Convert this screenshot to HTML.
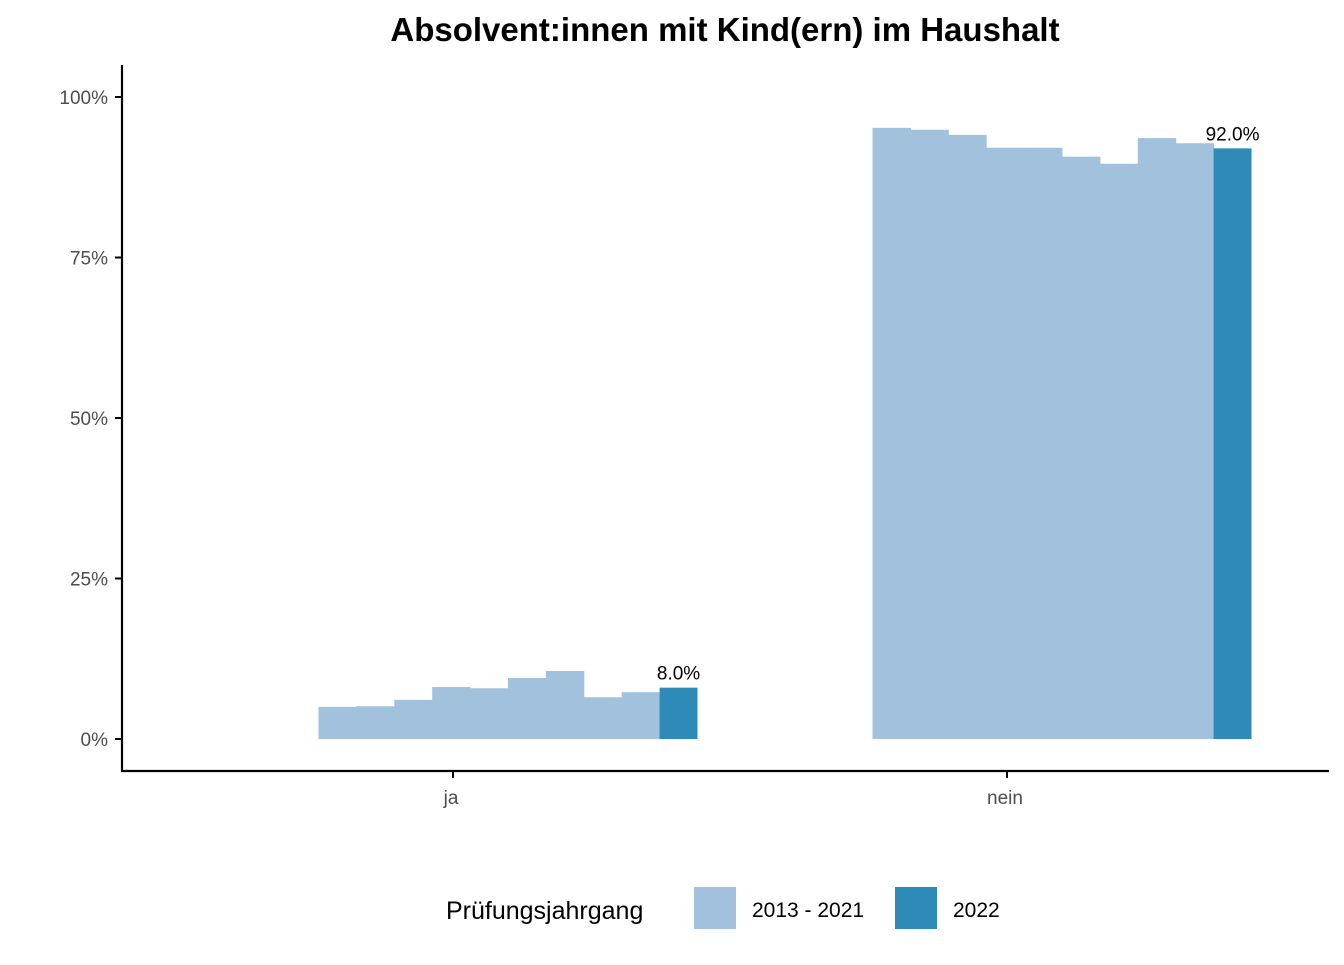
<!DOCTYPE html>
<html><head><meta charset="utf-8"><style>
body{margin:0;background:#fff;font-family:"Liberation Sans",Arial,sans-serif}
</style></head><body>
<svg id="chart" width="1344" height="960" xmlns="http://www.w3.org/2000/svg">
<text x="725" y="41" text-anchor="middle" font-size="33" font-weight="bold" fill="#000">Absolvent:innen mit Kind(ern) im Haushalt</text>
<g id="bars"></g>
<g id="yaxis"></g>
<g id="xaxis"></g>
<line x1="122" y1="65" x2="122" y2="771" stroke="#000" stroke-width="2.2"/>
<line x1="121" y1="771" x2="1329" y2="771" stroke="#000" stroke-width="2.2"/>
<g>
<text x="446" y="919" font-size="25" fill="#000">Prüfungsjahrgang</text>
<rect x="694" y="887" width="42" height="42" fill="#a1c1dd"/>
<text x="752" y="917" font-size="21" fill="#000">2013 - 2021</text>
<rect x="895" y="887" width="42" height="42" fill="#2e8ab7"/>
<text x="953" y="917" font-size="21" fill="#000">2022</text>
</g>
</svg>
<script>
const categories = ["ja", "nein"];
const historic = [
  [5.0, 5.1, 6.1, 8.1, 7.9, 9.5, 10.6, 6.5, 7.3],
  [95.2, 94.9, 94.1, 92.1, 92.1, 90.7, 89.6, 93.6, 92.8]
];
const current = [8.0, 92.0];
const yTicks = [0, 25, 50, 75, 100];
const yTickLabels = ["0%", "25%", "50%", "75%", "100%"];

const NS = "http://www.w3.org/2000/svg";
const y = v => 739 - v * 6.42;
const xCenter = i => 453 + i * 554;
const barW = 37.9;
function mk(tag, attrs, parent) {
  const e = document.createElementNS(NS, tag);
  for (const k in attrs) e.setAttribute(k, attrs[k]);
  parent.appendChild(e);
  return e;
}
const bars = document.getElementById("bars");
const yaxis = document.getElementById("yaxis");
const xaxis = document.getElementById("xaxis");
categories.forEach((c, i) => {
  const n = historic[i].length + 1;
  const left = xCenter(i) - n * barW / 2 + 55;
  historic[i].forEach((v, j) => {
    const r = mk("rect", {x: left + j * barW, y: y(v), width: barW + 0.5, height: y(0) - y(v), fill: "#a1c1dd"}, bars);
    
    
  });
  const cx = left + historic[i].length * barW;
  const r = mk("rect", {x: cx, y: y(current[i]), width: barW, height: y(0) - y(current[i]), fill: "#2e8ab7"}, bars);
  
  
  const t = mk("text", {x: cx + barW / 2, y: y(current[i]) - 8, "text-anchor": "middle", "font-size": "19", fill: "#000"}, bars);
  t.textContent = current[i].toFixed(1) + "%";
  
  
  const tk = mk("line", {x1: xCenter(i), x2: xCenter(i), y1: 771, y2: 778, stroke: "#000", "stroke-width": 2}, xaxis);
  
  
  const lb = mk("text", {x: xCenter(i) - 2, y: 804, "text-anchor": "middle", "font-size": "19", fill: "#4d4d4d"}, xaxis);
  lb.textContent = c;
  
  
});
yTicks.forEach((v, i) => {
  const tk = mk("line", {x1: 115, x2: 122, y1: y(v), y2: y(v), stroke: "#000", "stroke-width": 2}, yaxis);
  
  
  const lb = mk("text", {x: 108, y: y(v) + 7, "text-anchor": "end", "font-size": "19", fill: "#4d4d4d"}, yaxis);
  lb.textContent = yTickLabels[i];
  
  
});
</script>
</body></html>
